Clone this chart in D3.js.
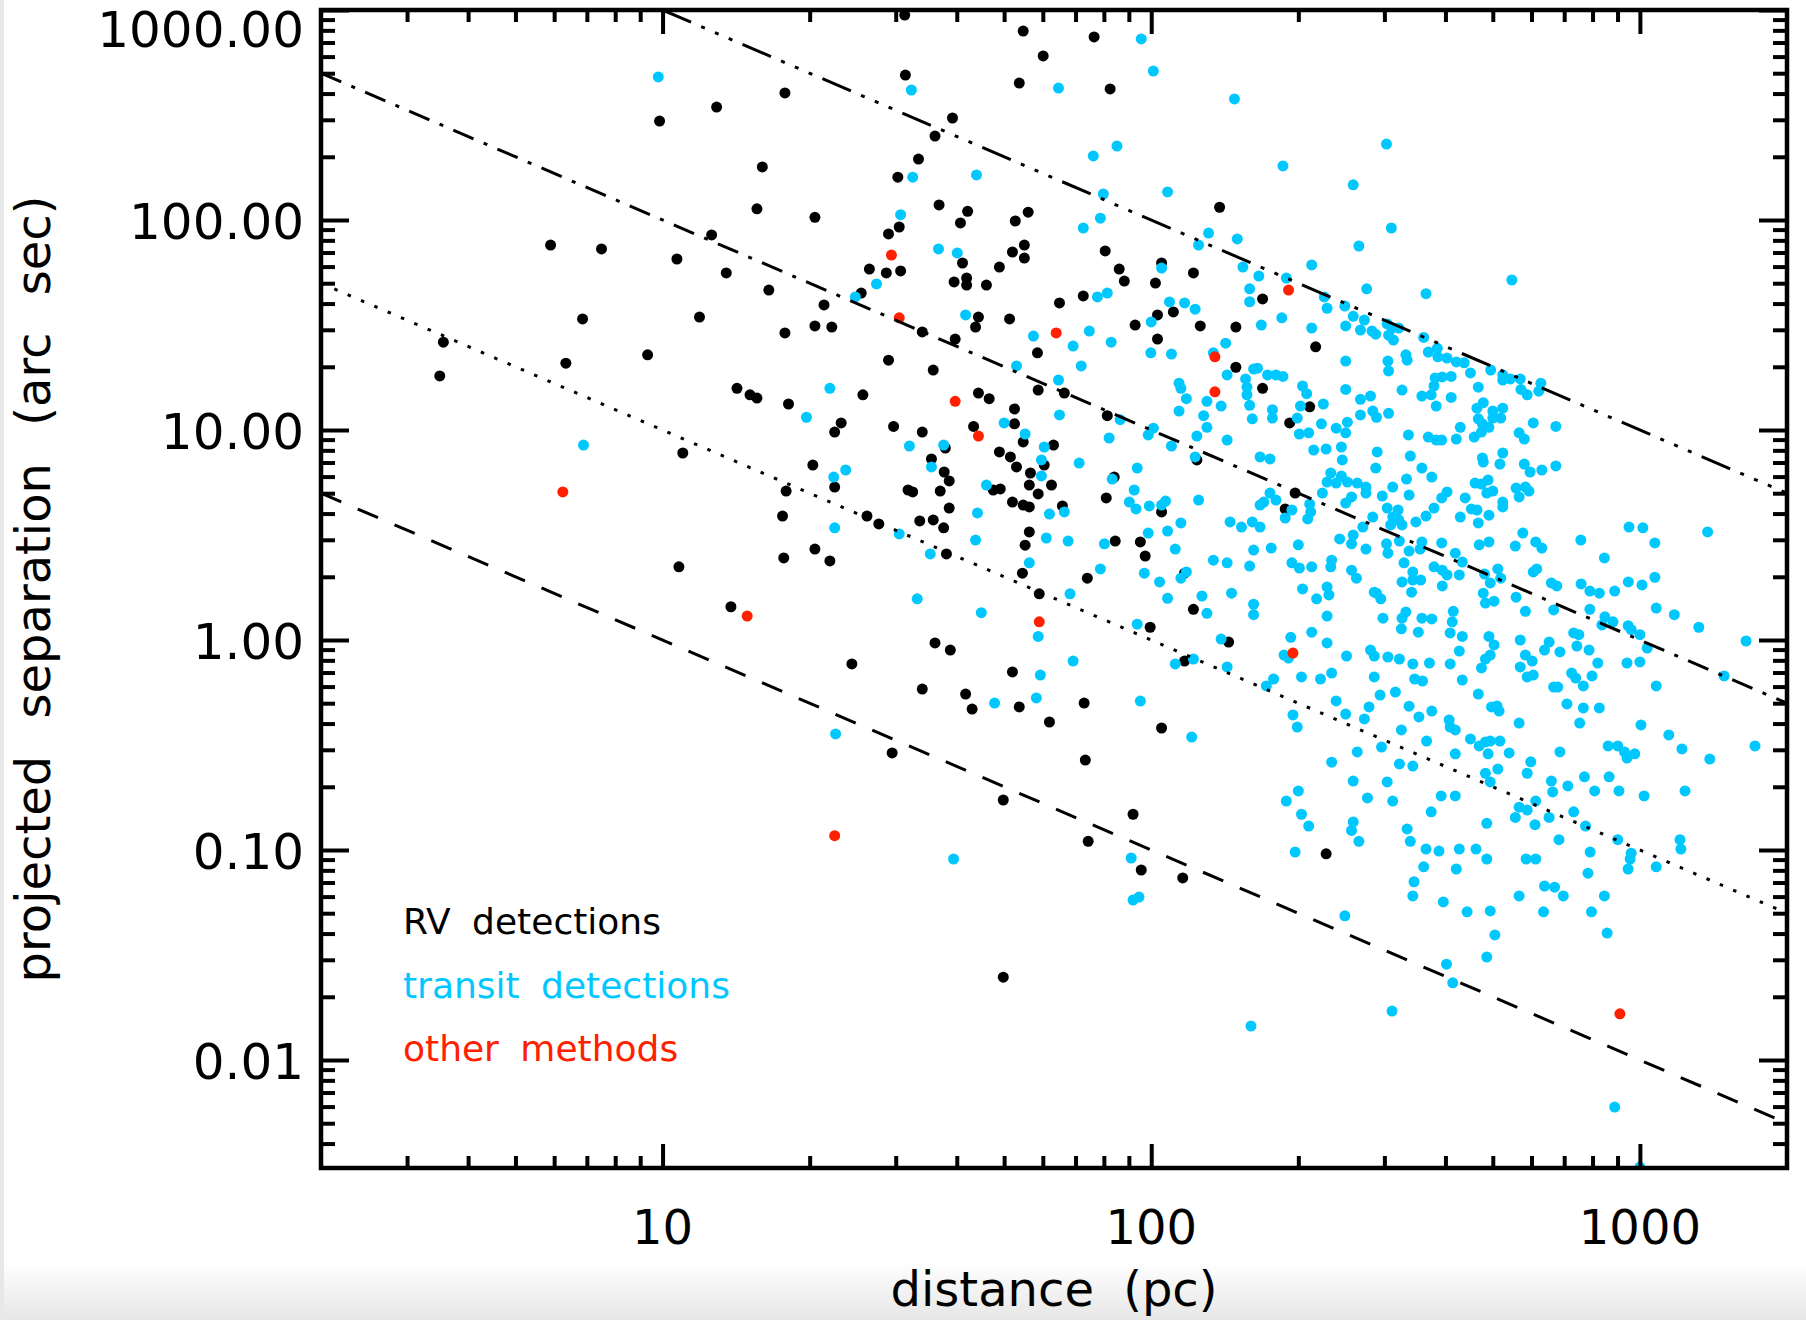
<!DOCTYPE html>
<html>
<head>
<meta charset="utf-8">
<script src="https://cdn.jsdelivr.net/npm/d3@7"></script>
<style>
  html, body { margin: 0; padding: 0; background: #fff; }
  svg { display: block; }
  text { font-family: "DejaVu Sans", sans-serif; }
</style>
</head>
<body>
<div id="chart"></div>
<script>
// [distance (pc), projected separation (arcsec)]
const rvDetections = [
  [9.86,296],[12.9,345],[17.8,403],[16.0,179],[15.6,113],[12.6,84.9],[5.90,76],[7.50,72.8],[10.7,65.2],[13.5,56],
  [16.5,46.4],[6.86,33.8],[11.9,34.5],[17.8,29.0],[3.56,26.2],[3.50,18.1],[6.34,20.8],[9.32,22.8],[14.2,15.8],[15.1,14.7],
  [15.6,14.2],[18.1,13.3],[11.0,7.77],[17.9,5.12],[17.6,3.89],[17.7,2.46],[10.8,2.23],[13.8,1.44],
  [31.3,946],[54.7,794],[76.4,744],[60.1,604],[31.4,490],[53.7,449],[82.4,421],[39.2,306],[36.1,251],[33.4,195],
  [30.3,160],[36.8,118],[42.1,110],[20.5,103],[40.7,96.8],[52.7,98.9],[56.0,109],[30.5,92.6],[29.0,85.8],[41.1,62.4],
  [55.0,76.0],[52.0,70.4],[55.0,65.9],[80.5,71.2],[48.9,59.7],[26.5,58.4],[28.7,56.0],[30.7,57.2],[86.0,58.4],[105,62.4],
  [88.1,51.2],[102,50.1],[39.5,50.7],[41.9,52.9],[41.9,49.0],[46.0,49.0],[25.5,44.9],[21.4,39.4],[20.5,31.3],[22.2,30.9],
  [34.0,29.3],[39.7,27.1],[44.3,34.5],[43.7,30.9],[51.3,33.8],[64.9,40.3],[72.6,43.5],[92.7,31.6],[103,35.3],[111,36.5],
  [103,27.1],[58.5,23.3],[29.0,21.5],[35.8,19.3],[58.7,15.5],[66.4,15.0],[25.7,14.7],[44.3,15.0],[46.6,14.1],
  [23.2,10.8],[22.5,9.78],[29.7,10.4],[34.0,9.78],[43.3,10.4],[52.5,12.6],[52.5,10.7],[54.7,8.77],[81.3,11.7],[48.9,7.86],
  [51.5,7.44],[53.0,6.67],[37.9,8.21],[63.1,8.48],[60.4,6.81],[20.3,6.81],[22.5,5.35],[35.5,7.28],[37.7,6.31],[38.6,5.72],
  [56.6,6.24],[56.3,5.47],[62.5,5.47],[58.7,4.96],[47.5,5.18],[49.1,5.24],[84.0,5.97],[80.9,4.75],[105,4.07],[31.8,5.18],
  [32.5,5.07],[37.0,5.12],[38.6,4.25],[52.0,4.54],[54.7,4.39],[56.3,4.30],[65.8,4.35],[26.2,3.89],[27.7,3.57],[33.6,3.69],
  [35.8,3.73],[37.6,3.42],[56.3,3.27],[55.2,2.83],[84.4,2.96],[95.0,2.93],[97.2,2.51],[20.5,2.71],[22.0,2.38],[38.1,2.57],
  [54.5,2.08],[74.0,1.97],[59.0,1.66],[99.5,1.15],[36.1,0.968],[38.8,0.896],[24.4,0.769],[52.0,0.705],[34.0,0.584],[41.7,0.553],
  [43.0,0.469],[53.7,0.480],[72.9,0.501],[61.9,0.407],[105,0.381],[29.5,0.290],[73.3,0.268],[49.8,0.173],[91.8,0.148],
  [74.3,0.110],[95.4,0.0803],[116,0.0736],[49.8,0.0248],
  [138,115],[122,56.0],
  [169,42.1],[126,31.3],[149,30.9],[217,24.9],[149,19.9],[169,15.8],[211,12.9],[192,10.8],[124,7.20],[197,5.01],
  [188,4.21],[117,2.08],[122,1.40],[144,0.978],[117,0.794],[228,0.0959]
];

const transitDetections = [
  [9.8,480],[6.89,8.48],
  [95.4,728],[101,512],[32.3,416],[64.6,425],[85.1,225],[76.1,202],[32.5,160],[43.9,164],[79.8,133],[108,136],
  [30.7,106],[78.7,102],[72.6,91.6],[36.7,72.8],[40.1,69.7],[105,59.0],[27.4,49.6],[24.8,43.0],[77.6,43.0],[81.3,44.9],
  [109,40.7],[41.7,35.3],[100,32.7],[57.4,28.0],[74.7,29.6],[82.8,26.2],[99.8,23.3],[110,23.0],[69.2,25.1],[71.9,20.2],
  [53.0,20.2],[64.6,17.3],[114,16.7],[115,15.8],[22.0,15.8],[118,14.1],[114,12.3],
  [19.7,11.5],[50.0,10.8],[55.2,9.57],[64.9,11.8],[86.4,11.2],[101,10.2],[98.6,9.47],[82.0,9.16],[110,8.39],[32.0,8.39],
  [37.6,8.48],[60.4,8.30],[59.6,7.20],[71.2,6.96],[23.7,6.45],[22.4,5.97],[35.5,6.67],[59.6,6.04],[46.0,5.47],[83.2,5.84],
  [93.6,6.59],[92.3,5.18],[90.2,4.54],[93.1,4.21],[99.1,4.35],[105,4.39],[107,4.59],[66.4,4.07],[61.9,3.98],[44.1,4.03],
  [22.5,3.42],[30.5,3.20],[43.7,2.99],[61.0,3.06],[67.6,2.96],[80.2,2.87],[98.6,3.23],[108,3.30],[112,2.71],[35.3,2.57],
  [56.3,2.33],[78.7,2.18],[96.8,2.08],[104,1.89],[108,1.58],[68.2,1.66],[33.2,1.57],[44.9,1.35],[58.7,1.04],[93.6,1.19],
  [69.2,0.794],[112,0.769],[59.3,0.681],[47.8,0.501],[58.2,0.530],[95.0,0.512],[22.6,0.357],
  [39.4,0.0906],[91.0,0.0916],[94.4,0.0597],
  [148,377],[303,230],[186,181],[259,147],[310,91.6],[131,86.7],[150,81.3],[125,76.0],[266,75.2],[213,61.1],
  [154,59.7],[166,54.1],[189,52.9],[547,51.8],
  [159,47.0],[159,40.8],[117,40.3],[123,37.6],[276,47.0],[365,44.6],[226,43.0],[229,38.0],[249,38.9],[259,34.8],
  [273,33.4],[185,34.2],[168,31.6],[213,30.6],[250,31.3],[268,29.9],[283,29.6],[288,28.6],[304,32.0],[311,30.6],
  [306,28.3],[313,26.8],[321,30.6],[361,27.6],[142,25.9],[134,23.3],[369,23.5],[385,24.5],[386,22.3],[403,22.0],
  [143,18.3],[162,19.5],[165,19.7],[173,18.3],[180,18.3],[186,18.0],[250,21.3],[305,21.3],[306,19.1],[332,22.8],
  [334,21.5],[421,21.1],[437,20.9],[450,18.7],[156,17.5],[157,16.0],[157,14.7],[204,16.2],[208,14.9],[250,15.6],
  [326,15.5],[381,17.7],[394,17.9],[411,18.0],[379,16.2],[374,14.7],[467,16.0],[130,13.7],[139,13.0],[159,13.1],
  [128,11.7],[130,10.3],[161,11.3],[177,12.5],[177,11.4],[202,13.0],[225,13.3],[199,11.4],[223,10.7],[268,14.0],
  [281,14.5],[284,12.3],[268,11.8],[289,11.5],[306,12.0],[358,14.5],[383,13.0],[411,14.3],[464,12.7],[467,11.3],
  [239,10.2],[252,10.9],[250,9.69],[201,9.57],[210,9.69],[124,9.36],[143,8.96],[336,9.47],[369,9.25],[383,8.96],
  [393,8.96],[421,9.05],[429,10.3],[458,9.25],[245,8.30],[215,8.03],[228,8.12],[123,7.44],[167,7.44],[175,7.28],
  [290,7.86],[339,7.52],[246,7.20],[288,6.59],[358,6.59],[375,5.97],[233,6.24],[229,5.65],[245,6.04],[239,5.59],
  [252,5.65],[264,5.59],[275,5.35],[275,5.01],[312,5.35],[333,5.84],[297,4.85],[337,4.90],[403,5.07],[393,4.75],
  [439,4.75],[460,5.59],[125,4.64],[175,5.01],[170,4.54],[180,4.64],[224,5.01],[257,4.80],[250,4.49],[167,4.39],
  [194,4.16],[211,4.44],[212,4.07],[209,3.77],[188,3.81],[304,4.25],[320,4.16],[312,3.85],[321,3.73],[326,3.53],
  [309,3.53],[284,3.85],[271,3.45],[348,3.65],[365,3.89],[379,4.25],[429,3.85],[452,4.21],[464,4.16],[467,3.61],
  [145,3.65],[153,3.45],[161,3.65],[167,3.45],[115,3.61],[243,3.03],[259,3.16],[257,2.87],[275,2.71],[303,2.87],
  [322,2.96],[337,2.65],[355,2.71],[358,2.93],[393,2.90],[419,2.59],[469,2.84],[200,2.84],[162,2.68],[176,2.74],
  [305,2.59],[134,2.40],[143,2.33],[159,2.25],[194,2.33],[201,2.20],[213,2.23],[234,2.40],[233,2.23],[257,2.15],
  [263,1.97],[329,2.33],[343,2.11],[343,1.93],[379,2.23],[394,2.15],[403,2.04],[427,2.04],[433,2.35],[118,2.11],
  [115,1.97],
  [495,19.3],[524,18.3],[524,17.3],[543,17.5],[569,17.5],[571,15.6],[588,14.7],[627,16.7],[621,15.3],[478,13.5],
  [500,12.3],[524,12.7],[500,11.4],[519,11.4],[476,10.7],[491,10.3],[474,9.78],[605,10.8],[673,10.4],[566,9.69],
  [580,9.05],[524,7.77],[476,7.36],[478,7.04],[517,6.88],[580,6.88],[596,6.31],[630,6.45],[673,6.74],[489,5.78],
  [474,5.53],[486,5.01],[500,5.12],[558,5.29],[583,5.35],[593,5.12],[566,4.80],[524,4.54],[524,4.30],[491,3.93],
  [950,3.45],[1014,3.42],[1376,3.27],[576,3.23],[757,2.99],[1073,2.90],[556,2.80],[612,2.93],[630,2.74],[491,2.93],
  [846,2.46],[512,2.18],[605,2.11],[615,2.18],[481,2.06],[519,1.97],[1073,1.99],
  [127,1.62],[130,1.34],[146,1.67],[162,1.48],[162,1.32],[204,1.75],[229,1.79],[231,1.64],[218,1.57],[229,1.30],
  [286,1.69],[295,1.57],[289,1.67],[326,1.89],[341,1.69],[356,1.93],[394,1.81],[298,1.27],[332,1.36],[326,1.27],
  [325,1.13],[358,1.27],[375,1.26],[415,1.37],[413,1.22],[409,1.08],[433,1.04],[352,1.09],[139,1.01],[193,1.03],
  [213,1.09],[229,0.968],[187,0.848],[191,0.821],[251,0.839],[281,0.896],[286,0.839],[305,0.830],[322,0.812],[343,0.769],
  [371,0.777],[409,0.769],[427,0.886],[122,0.812],[143,0.744],[178,0.652],[172,0.604],[203,0.667],[222,0.652],[234,0.696],
  [286,0.667],[346,0.652],[359,0.638],[433,0.645],[294,0.547],[316,0.565],[467,0.553],[239,0.513],[279,0.480],[337,0.484],
  [375,0.459],[353,0.430],[195,0.440],[199,0.385],[250,0.444],[273,0.421],[325,0.373],[407,0.416],[409,0.385],[419,0.373],
  [121,0.345],[366,0.330],[450,0.338],[469,0.313],[296,0.309],[264,0.293],[419,0.287],[322,0.257],[343,0.251],[234,0.262],
  [259,0.213],[304,0.211],[200,0.191],[189,0.171],[277,0.177],[312,0.171],[392,0.181],[419,0.181],[374,0.152],[203,0.148],
  [210,0.130],[259,0.136],[257,0.124],[266,0.110],[334,0.126],[339,0.110],[197,0.0977],[365,0.101],[388,0.0988],[427,0.101],
  [462,0.101],[361,0.0832],[421,0.0812],[345,0.0706],[343,0.0604],[396,0.0566],
  [494,1.87],[478,1.67],[483,1.50],[503,1.53],[558,1.60],[583,1.37],[666,1.39],[659,1.87],[676,1.81],[758,1.85],
  [790,1.71],[826,1.67],[888,1.71],[947,1.89],[1010,1.83],[1080,1.42],[1176,1.32],[1320,1.15],[1649,0.989],[790,1.40],
  [848,1.29],[836,1.18],[881,1.22],[946,1.17],[960,1.12],[1000,1.06],[1035,0.916],[1000,0.786],[941,0.777],[1080,0.604],
  [1487,0.674],[491,1.04],[503,0.947],[569,1.0],[494,0.848],[483,0.812],[474,0.736],[583,0.848],[602,0.794],[569,0.744],
  [588,0.667],[605,0.681],[638,0.896],[652,0.978],[686,0.877],[732,1.08],[750,1.06],[743,0.936],[787,0.896],[820,0.777],
  [725,0.696],[739,0.659],[798,0.674],[766,0.604],[666,0.597],[679,0.597],[709,0.496],[766,0.475],[826,0.475],[497,0.480],
  [510,0.485],[515,0.459],[566,0.402],[753,0.402],[1005,0.394],[1146,0.353],[1720,0.313],[1219,0.303],[1390,0.271],[861,0.313],
  [901,0.313],[930,0.293],[941,0.274],[976,0.287],[686,0.293],[483,0.327],[494,0.330],[517,0.330],[489,0.287],[540,0.290],
  [598,0.263],[512,0.243],[483,0.232],[494,0.211],[588,0.232],[659,0.213],[663,0.189],[712,0.202],[770,0.223],[808,0.191],
  [865,0.223],[906,0.191],[1020,0.181],[1237,0.191],[566,0.160],[556,0.143],[588,0.155],[612,0.171],[610,0.132],[652,0.143],
  [732,0.152],[774,0.130],[486,0.134],[486,0.0906],[683,0.112],[901,0.112],[791,0.0977],[783,0.0776],[960,0.0966],[955,0.0906],
  [946,0.0812],[1080,0.0832],[1208,0.112],[1213,0.101],[585,0.0906],[612,0.0906],[638,0.0673],[669,0.0665],[697,0.0604],[566,0.0604],
  [846,0.0604],
  [91.8,0.0578],[249,0.0486],[443,0.0508],[494,0.0513],[635,0.0508],[796,0.0508],[505,0.0394],[857,0.0402],[486,0.0309],[402,0.0286],
  [414,0.0233],[311,0.0171],[160,0.0145],[888,0.00597],[1000,0.00309]
];

const otherMethods = [
  [6.25,5.07],[14.9,1.30],[29.4,68.1],[30.5,34.2],[63.9,29.0],[39.7,13.7],[44.3,9.36],[59.0,1.22],
  [22.5,0.117],[191,46.4],[135,22.3],[135,15.2],[195,0.867],[910,0.0166]
];

const xMajorTicks = [10, 100, 1000];
const xTickLabels = ["10", "100", "1000"];
const yMajorTicks = [0.01, 0.1, 1, 10, 100, 1000];
const yTickLabels = ["0.01", "0.10", "1.00", "10.00", "100.00", "1000.00"];

// constant projected separations (AU): arcsec = AU / pc
const separationsAU = [10, 100, 1000, 10000];
const lineDashes = ["22,18", "3.5,11", "22,11,4,11", "31,11,4,11,4,11,4,11"];

const legendLabels = ["RV detections", "transit detections", "other methods"];
const seriesColors = ["#000000", "#00c8ff", "#ff2000"];

(function() {
  const width = 1806, height = 1320;
  const left = 321, right = 1787, top = 10, bottom = 1168;

  const svg = d3.select("#chart")
    .append("svg")
    .attr("width", width)
    .attr("height", height);

  // faint grey border of the screenshot
  const defs = svg.append("defs");
  const grad = defs.append("linearGradient")
    .attr("id", "fade").attr("x1", 0).attr("y1", 0).attr("x2", 0).attr("y2", 1);
  grad.append("stop").attr("offset", "0%").attr("stop-color", "#ffffff");
  grad.append("stop").attr("offset", "100%").attr("stop-color", "#e6e6e6");
  svg.append("rect").attr("x", 0).attr("y", 1262).attr("width", width).attr("height", height - 1262)
    .attr("fill", "url(#fade)");
  svg.append("rect").attr("x", 0).attr("y", 0).attr("width", 4).attr("height", height)
    .attr("fill", "#e8e8e8");

  defs.append("clipPath").attr("id", "plotclip")
    .append("rect").attr("x", left).attr("y", top)
    .attr("width", right - left).attr("height", bottom - top);

  const x = d3.scaleLog().domain([2, 2000]).range([left, right]);
  const y = d3.scaleLog().domain([0.00306, 1000]).range([bottom, top]);

  // minor tick positions 2..9 per decade inside the domains
  function minors(domain) {
    const out = [];
    for (let k = -3; k <= 3; k++) {
      for (let m = 2; m <= 9; m++) {
        const v = m * Math.pow(10, k);
        if (v > domain[0] * 1.0001 && v < domain[1] * 0.9999) out.push(v);
      }
    }
    return out;
  }
  const xMinor = minors(x.domain());
  const yMinor = minors(y.domain());

  // points
  const plot = svg.append("g").attr("clip-path", "url(#plotclip)");
  [rvDetections, transitDetections, otherMethods].forEach((series, i) => {
    plot.append("g")
      .selectAll("circle")
      .data(series)
      .enter().append("circle")
      .attr("cx", d => x(d[0]))
      .attr("cy", d => y(d[1]))
      .attr("r", 5.5)
      .attr("fill", seriesColors[i]);
  });

  // lines of constant physical separation
  const line = d3.line().x(d => x(d[0])).y(d => y(d[1]));
  separationsAU.forEach((a, i) => {
    const dStart = Math.max(2, a / 1000);
    const dEnd = Math.min(2000, a / 0.00306);
    plot.append("path")
      .datum([[dStart, a / dStart], [dEnd, a / dEnd]])
      .attr("fill", "none")
      .attr("stroke", "black")
      .attr("stroke-width", 3)
      .attr("stroke-dasharray", lineDashes[i])
      .attr("d", line);
  });

  // ticks on all four sides
  function ticks(axis, tr, values, size) {
    const g = svg.append("g")
      .attr("transform", tr)
      .call(axis.tickValues(values).tickSizeInner(-size).tickSizeOuter(0).tickFormat(""));
    g.select(".domain").remove();
    g.selectAll("line").attr("stroke", "black").attr("stroke-width", 4);
  }
  ticks(d3.axisBottom(x), `translate(0,${bottom})`, xMajorTicks, 24);
  ticks(d3.axisBottom(x), `translate(0,${bottom})`, xMinor, 12);
  ticks(d3.axisTop(x), `translate(0,${top})`, xMajorTicks, 24);
  ticks(d3.axisTop(x), `translate(0,${top})`, xMinor, 12);
  ticks(d3.axisLeft(y), `translate(${left},0)`, yMajorTicks, 28);
  ticks(d3.axisLeft(y), `translate(${left},0)`, yMinor, 14);
  ticks(d3.axisRight(y), `translate(${right},0)`, yMajorTicks, 28);
  ticks(d3.axisRight(y), `translate(${right},0)`, yMinor, 14);

  // frame
  svg.append("rect")
    .attr("x", left).attr("y", top)
    .attr("width", right - left).attr("height", bottom - top)
    .attr("fill", "none").attr("stroke", "black").attr("stroke-width", 4.5);

  // tick labels
  svg.append("g").selectAll("text")
    .data(xMajorTicks)
    .enter().append("text")
    .attr("x", d => x(d))
    .attr("y", 1244)
    .attr("text-anchor", "middle")
    .attr("font-size", 48)
    .text((d, i) => xTickLabels[i]);

  svg.append("g").selectAll("text")
    .data(yMajorTicks)
    .enter().append("text")
    .attr("x", 304)
    .attr("y", d => Math.max(y(d) + 19, 47))
    .attr("text-anchor", "end")
    .attr("font-size", 50)
    .text((d, i) => yTickLabels[i]);

  // axis titles
  svg.append("text")
    .attr("x", (left + right) / 2)
    .attr("y", 1306)
    .attr("text-anchor", "middle")
    .attr("font-size", 48)
    .attr("word-spacing", 14)
    .text("distance (pc)");

  svg.append("text")
    .attr("transform", `translate(50,${(top + bottom) / 2}) rotate(-90)`)
    .attr("text-anchor", "middle")
    .attr("font-size", 48)
    .attr("word-spacing", 22)
    .text("projected separation (arc sec)");

  // legend
  svg.append("g").selectAll("text")
    .data(legendLabels)
    .enter().append("text")
    .attr("x", 403)
    .attr("y", (d, i) => 934 + i * 63.5)
    .attr("font-size", 36)
    .attr("word-spacing", 10)
    .attr("fill", (d, i) => seriesColors[i])
    .text(d => d);
})();
</script>
</body>
</html>
